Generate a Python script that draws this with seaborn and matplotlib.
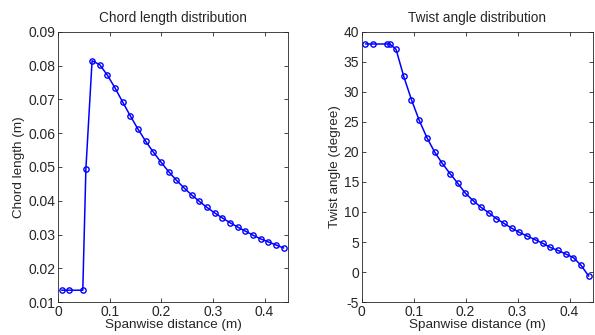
import numpy as np
import pandas as pd
import matplotlib
matplotlib.use("Agg")
import matplotlib.pyplot as plt
import seaborn as sns

# -------------------------
# Data
# -------------------------
span_head = [0.007, 0.022, 0.048, 0.054, 0.066]
span_tail = [0.0808, 0.0957, 0.1105, 0.1254, 0.1402, 0.1550, 0.1699, 0.1847,
             0.1996, 0.2144, 0.2292, 0.2441, 0.2589, 0.2738, 0.2886, 0.3034,
             0.3183, 0.3331, 0.3480, 0.3628, 0.3776, 0.3925, 0.4073, 0.4222,
             0.4370]
span = span_head + span_tail

chord = [0.0135, 0.0135, 0.0135, 0.0495, 0.0815, 0.0803, 0.0772, 0.0734,
         0.0692, 0.0651, 0.0612, 0.0576, 0.0544, 0.0514, 0.0486, 0.0461,
         0.0438, 0.0417, 0.0398, 0.0380, 0.0364, 0.0349, 0.0335, 0.0322,
         0.0310, 0.0298, 0.0287, 0.0278, 0.0269, 0.0260]

twist = [38.0, 38.0, 38.0, 38.0, 37.1, 32.6, 28.7, 25.3, 22.4, 20.0,
         18.1, 16.4, 14.8, 13.1, 11.9, 10.8, 9.9, 8.9, 8.1, 7.3,
         6.6, 6.0, 5.4, 4.8, 4.1, 3.6, 3.0, 2.4, 1.1, -0.7]

x_ticks = [0, 0.1, 0.2, 0.3, 0.4]
chord_ticks = [0.01, 0.02, 0.03, 0.04, 0.05, 0.06, 0.07, 0.08, 0.09]
twist_ticks = [-5, 0, 5, 10, 15, 20, 25, 30, 35, 40]

# -------------------------
# Style
# -------------------------
sns.set_style("ticks", {"xtick.direction": "in", "ytick.direction": "in"})
plt.rcParams['font.family'] = ['Liberation Sans', 'DejaVu Sans']

df = pd.DataFrame({"span": span, "chord": chord, "twist": twist})


def draw_panel(ax, ycol, title, ylabel, yticks, ylim):
    sns.lineplot(data=df, x="span", y=ycol, ax=ax, color="#0000ff",
                 marker="o", markersize=3.8, markerfacecolor="none",
                 markeredgecolor="#0000ff", markeredgewidth=1.0,
                 linewidth=1.1, sort=False)
    ax.set_xlim(0, 0.4455)
    ax.set_ylim(*ylim)
    ax.set_xticks(x_ticks)
    ax.set_xticklabels(["0", "0.1", "0.2", "0.3", "0.4"])
    ax.set_yticks(yticks)
    ax.set_yticklabels([f"{t:g}" for t in yticks])
    ax.tick_params(axis="both", labelsize=10, length=3, width=0.6,
                   top=True, right=True, pad=2)
    for s in ax.spines.values():
        s.set_visible(True)
        s.set_linewidth(0.6)
    ax.set_title(title, fontsize=9.8, pad=7)
    ax.set_xlabel("Spanwise distance (m)", fontsize=9.7, labelpad=0)
    ax.set_ylabel(ylabel, fontsize=9.7, labelpad=2)


fig = plt.figure(figsize=(5.95, 3.35), dpi=100)
ax1 = fig.add_axes([0.0975, 0.0985, 0.3866, 0.806])
ax2 = fig.add_axes([0.608, 0.0985, 0.389, 0.806])

draw_panel(ax1, "chord", "Chord length distribution", "Chord length (m)",
           chord_ticks, (0.01, 0.09))
draw_panel(ax2, "twist", "Twist angle distribution", "Twist angle (degree)",
           twist_ticks, (-5, 40))

fig.savefig("out.png", dpi=100)
plt.close(fig)
